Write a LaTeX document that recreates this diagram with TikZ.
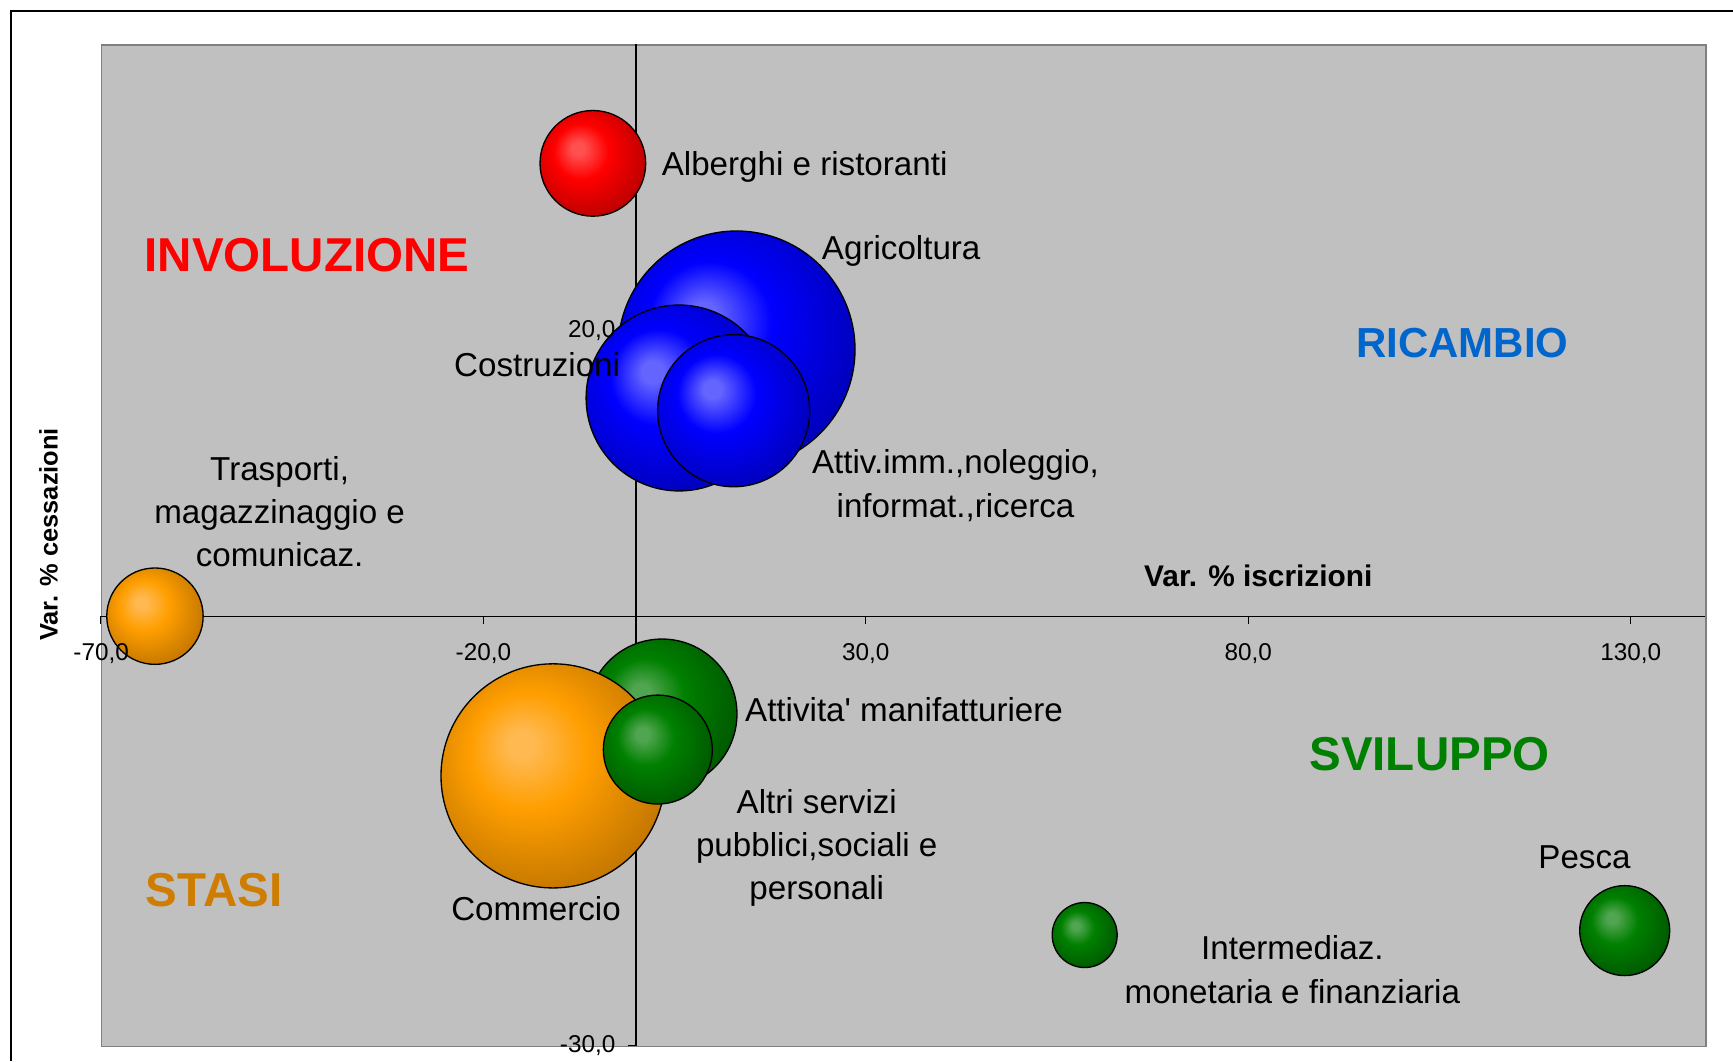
\documentclass[tikz,border=0pt]{standalone}
\usepackage{fontspec}
\setmainfont{Liberation Sans}
\definecolor{bgray}{HTML}{C0C0C0}
\definecolor{pborder}{HTML}{808080}
\definecolor{ricblue}{HTML}{0066CC}
\definecolor{svgreen}{HTML}{008000}
\definecolor{stasiorange}{RGB}{207,125,0}
\definecolor{redhl}{RGB}{255,80,80}
\definecolor{redmain}{RGB}{255,0,0}
\definecolor{reddk}{RGB}{165,0,0}
\definecolor{bluehl}{RGB}{100,100,255}
\definecolor{bluemain}{RGB}{0,0,255}
\definecolor{bluedk}{RGB}{0,0,165}
\definecolor{orghl}{RGB}{255,185,80}
\definecolor{orgmain}{RGB}{255,158,0}
\definecolor{orgdk}{RGB}{175,105,0}
\definecolor{grnhl}{RGB}{80,165,80}
\definecolor{grnmain}{RGB}{0,128,0}
\definecolor{grndk}{RGB}{0,75,0}
\pgfdeclareradialshading{bubred}{\pgfpoint{-7.5bp}{7.5bp}}{color(0bp)=(redhl); color(3bp)=(redhl); color(13bp)=(redmain); color(35bp)=(reddk); color(50bp)=(reddk)}
\pgfdeclareradialshading{bubblue}{\pgfpoint{-7.5bp}{7.5bp}}{color(0bp)=(bluehl); color(3bp)=(bluehl); color(13bp)=(bluemain); color(35bp)=(bluedk); color(50bp)=(bluedk)}
\pgfdeclareradialshading{buborg}{\pgfpoint{-7.5bp}{7.5bp}}{color(0bp)=(orghl); color(3bp)=(orghl); color(13bp)=(orgmain); color(35bp)=(orgdk); color(50bp)=(orgdk)}
\pgfdeclareradialshading{bubgrn}{\pgfpoint{-7.5bp}{7.5bp}}{color(0bp)=(grnhl); color(3bp)=(grnhl); color(13bp)=(grnmain); color(35bp)=(grndk); color(50bp)=(grndk)}
\tikzset{
  bub/.style={circle, draw=black, line width=1.2pt, inner sep=0pt, outer sep=0pt},
  lbl/.style={font=\fontsize{30}{36}\selectfont, inner sep=0pt, anchor=base, text=black},
  ticklbl/.style={font=\fontsize{22}{26}\selectfont, inner sep=0pt},
  quad/.style={font=\fontsize{43}{50}\selectfont\bfseries, inner sep=0pt, anchor=base},
  axtitle/.style={font=\fontsize{27}{32}\selectfont\bfseries, inner sep=0pt},
  axline/.style={line width=1pt, draw=black},
}
\begin{document}
\begin{tikzpicture}[x=1pt,y=-1pt]
\useasboundingbox (0,0) rectangle (1568,960);
\fill[white] (0,0) rectangle (1568,960);
% outer frame
\coordinate (fbl) at (10,960);
\coordinate (ftl) at (10,10);
\coordinate (ftr) at (1568,10);
\draw[line width=1.3pt] (fbl) -- (ftl) -- (ftr);
% plot area
\node[draw=pborder, fill=bgray, line width=1.2pt, minimum width=1452pt, minimum height=906pt, inner sep=0pt, anchor=north west] (plot) at (91,40) {};
% axes
\coordinate (xa0) at (91,557.5);
\coordinate (xa1) at (1543,557.5);
\coordinate (ya0) at (575.4,40);
\coordinate (ya1) at (575.4,946);
\draw[axline] (xa0) -- (xa1);
\draw[axline] (ya0) -- (ya1);
\foreach \xx in {91,437.4,783.4,1129.4,1475.4} {\draw[axline] (\xx,557.5) -- (\xx,565);}
\foreach \yy in {298.5,946} {\draw[axline] (575.4,\yy) -- (568,\yy);}
% bubbles
\node[bub, shading=bubblue, minimum size=214.4pt] (bagri) at (666.4,316.2) {};
\node[bub, shading=bubblue, minimum size=168.2pt] (bcostr) at (614.4,360.1) {};
\node[bub, shading=bubblue, minimum size=137.6pt] (battiv) at (663.8,371.6) {};
\node[bub, shading=bubred, minimum size=95.6pt] (balb) at (536.4,147.8) {};
\node[bub, shading=buborg, minimum size=87.2pt] (btrasp) at (140.2,557.5) {};
\node[bub, shading=bubgrn, minimum size=135.6pt] (bmanif) at (599,646) {};
\node[bub, shading=buborg, minimum size=202.8pt] (bcomm) at (500.4,702) {};
\node[bub, shading=bubgrn, minimum size=98.6pt] (baltri) at (595.2,678.2) {};
\node[bub, shading=bubgrn, minimum size=58.8pt] (binter) at (981.4,846) {};
\node[bub, shading=bubgrn, minimum size=81.4pt] (bpesca) at (1470,842) {};
% tick labels
\node[ticklbl] (tx1) at (91.5,591) {-70,0};
\node[ticklbl] (tx2) at (437.4,591) {-20,0};
\node[ticklbl] (tx3) at (783.4,591) {30,0};
\node[ticklbl] (tx4) at (1129.4,591) {80,0};
\node[ticklbl] (tx5) at (1475.4,591) {130,0};
\node[ticklbl, anchor=east] (ty1) at (557,299) {20,0};
\node[ticklbl, anchor=east] (ty2) at (557,946) {-30,0};
% axis titles
\node[axtitle, anchor=base] (xtitle) at (1138.5,531) {Var. \% iscrizioni};
\node[axtitle, font=\fontsize{23}{28}\selectfont\bfseries, rotate=90] (ytitle) at (44,483.5) {Var. \% cessazioni};
% data labels
\node[lbl, anchor=base west] (lalb) at (598.6,158.4) {Alberghi e ristoranti};
\node[lbl, anchor=base west] (lagri) at (743.5,234.7) {Agricoltura};
\node[lbl] (lcostr) at (486,340.8) {Costruzioni};
\node[lbl] (lattiv1) at (864.5,428.3) {Attiv.imm.,noleggio,};
\node[lbl] (lattiv2) at (864.5,467.8) {informat.,ricerca};
\node[lbl] (ltrasp1) at (253,434.4) {Trasporti,};
\node[lbl] (ltrasp2) at (253,473.5) {magazzinaggio e};
\node[lbl] (ltrasp3) at (253,512.2) {comunicaz.};
\node[lbl, anchor=base west] (lmanif) at (674,653) {Attivita\textquotesingle\ manifatturiere};
\node[lbl] (laltri1) at (739,736) {Altri servizi};
\node[lbl] (laltri2) at (739,775) {pubblici,sociali e};
\node[lbl] (laltri3) at (739,814) {personali};
\node[lbl] (lcomm) at (485,832.5) {Commercio};
\node[lbl] (linter1) at (1169.3,868.5) {Intermediaz.};
\node[lbl] (linter2) at (1169.3,908.3) {monetaria e finanziaria};
\node[lbl] (lpesca) at (1433.6,785.9) {Pesca};
% quadrant labels
\node[quad, text=red] (qinv) at (277.7,245.9) {INVOLUZIONE};
\node[quad, text=ricblue, font=\fontsize{38}{44}\selectfont\bfseries] (qric) at (1323,323.4) {RICAMBIO};
\node[quad, text=svgreen] (qsvi) at (1293.4,696.9) {SVILUPPO};
\node[quad, text=stasiorange] (qsta) at (193.8,820.4) {STASI};
\end{tikzpicture}
\end{document}
